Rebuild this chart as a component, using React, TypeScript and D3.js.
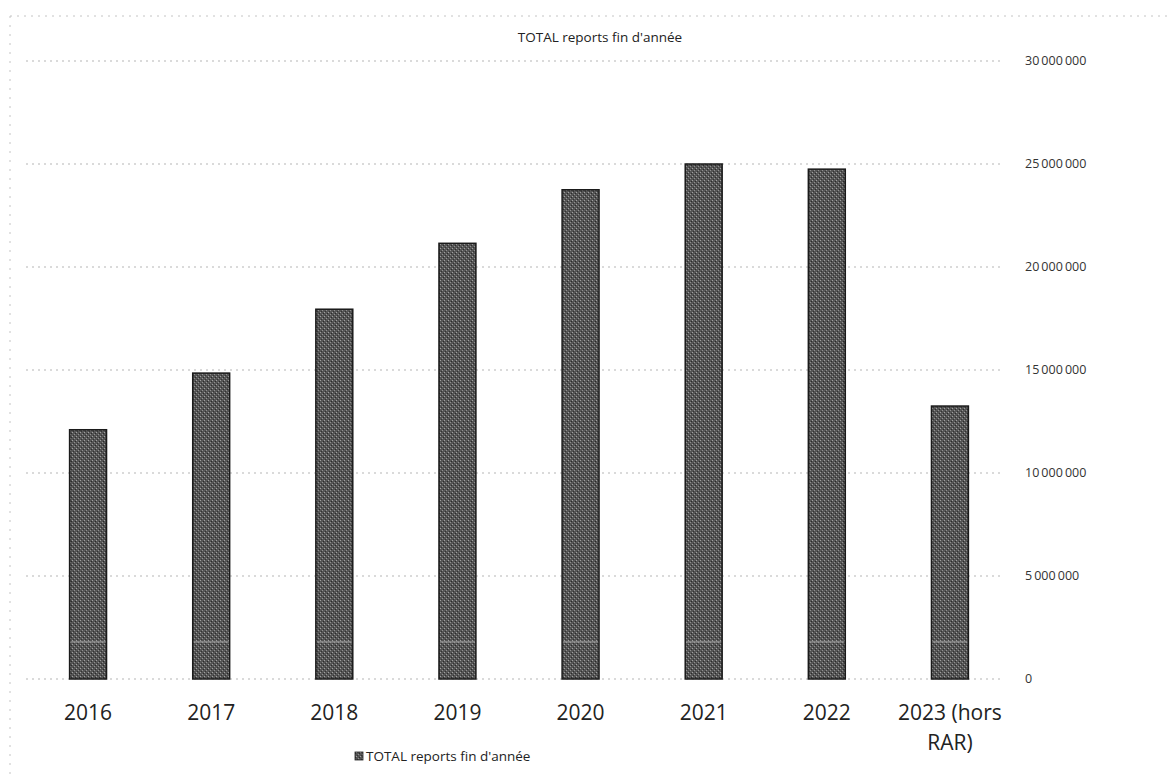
import React from "react";
import * as d3 from "d3";

const categories: string[] = ["2016", "2017", "2018", "2019", "2020", "2021", "2022", "2023 (hors RAR)"];
const values: number[] = [12100000, 14850000, 17950000, 21150000, 23750000, 25000000, 24750000, 13250000];
const yTicks: number[] = [0, 5000000, 10000000, 15000000, 20000000, 25000000, 30000000];
const title = "TOTAL reports fin d'année";
const seriesName = "TOTAL reports fin d'année";

const W = 1172;
const H = 776;
const FONT = "'Open Sans', 'Noto Sans', sans-serif";

export default function App() {
  const x = d3.scaleBand<string>().domain(categories).range([26.5, 1011.5]).paddingInner(0.7).paddingOuter(0.35);
  const y = d3.scaleLinear().domain([0, 30000000]).range([679, 61]);
  const fmt = (v: number) => d3.format(",")(v).replace(/,/g, "\u2009");

  const xLabelLines = (c: string) => {
    const m = c.match(/^(\S+ \(hors) (.*)$/);
    return m ? [m[1], m[2]] : [c];
  };

  return (
    <svg width={W} height={H} style={{ position: "absolute", left: 0, top: 0, background: "#fff" }}>
      <defs>
        <pattern id="grain" width="4" height="4" patternUnits="userSpaceOnUse">
          <rect width="4" height="4" fill="#555" />
          <rect x="0" y="0" width="1" height="1" fill="#a0a0a0" />
          <rect x="2" y="2" width="1" height="1" fill="#909090" />
          <rect x="3" y="1" width="1" height="1" fill="#2a2a2a" />
          <rect x="1" y="3" width="1" height="1" fill="#333" />
        </pattern>
      </defs>
      {/* faint chart border */}
      <line x1={10} x2={1172} y1={16} y2={16} stroke="#c4c4c4" strokeDasharray="2 5" strokeWidth={1} />
      <line x1={10} x2={10} y1={16} y2={776} stroke="#c4c4c4" strokeDasharray="2 7" strokeWidth={1} />
      {/* title */}
      <text x={600} y={42} textAnchor="middle" fontFamily={FONT} fontSize={13.5} fill="#222">{title}</text>
      {/* gridlines */}
      {yTicks.map((t) => (
        <line key={t} x1={26} x2={1002} y1={y(t)} y2={y(t)} stroke="#b5b5b5" strokeWidth={1} strokeDasharray="2 4" />
      ))}
      {/* right axis labels */}
      {yTicks.map((t) => (
        <text key={"l" + t} x={1025} y={y(t)} dy="0.35em" fontFamily={FONT} fontSize={12.5} fill="#333">
          {fmt(t)}
        </text>
      ))}
      {/* bars */}
      {categories.map((c, i) => (
        <g key={c}>
          <rect x={x(c)} y={y(values[i])} width={x.bandwidth()} height={y(0) - y(values[i])} fill="url(#grain)" stroke="#1a1a1a" strokeWidth={1.5} />
          <line x1={(x(c) ?? 0) + 1} x2={(x(c) ?? 0) + x.bandwidth() - 1} y1={y(1800000)} y2={y(1800000)} stroke="#aaa" strokeWidth={1} />
        </g>
      ))}
      {/* x labels */}
      {categories.map((c) => {
        const lines = xLabelLines(c);
        const cx = (x(c) ?? 0) + x.bandwidth() / 2;
        return (
          <text key={"x" + c} x={cx} y={720} textAnchor="middle" fontFamily={FONT} fontSize={21} fill="#222">
            {lines.map((ln, j) => (
              <tspan key={j} x={cx} dy={j === 0 ? 0 : 30}>{ln}</tspan>
            ))}
          </text>
        );
      })}
      {/* legend */}
      <rect x={355} y={752} width={8} height={8} fill="url(#grain)" stroke="#222" strokeWidth={0.8} />
      <text x={366} y={761} fontFamily={FONT} fontSize={13.5} fill="#222">{seriesName}</text>
    </svg>
  );
}
